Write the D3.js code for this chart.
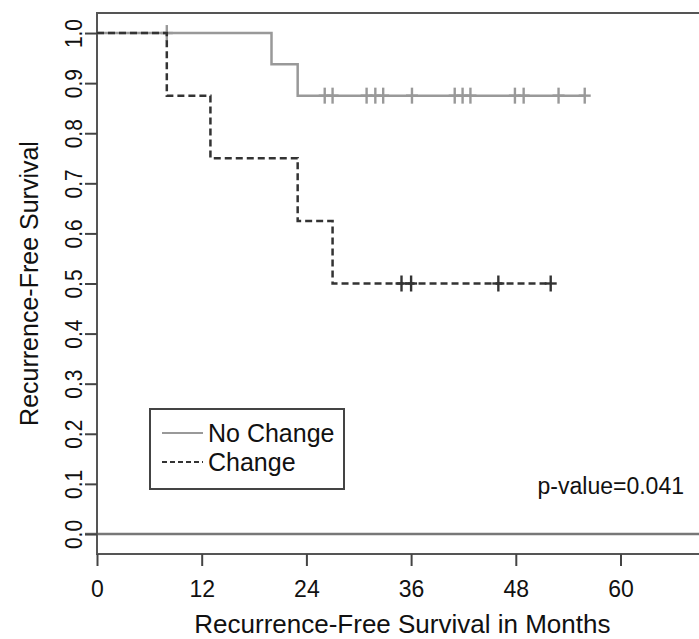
<!DOCTYPE html>
<html>
<head>
<meta charset="utf-8">
<script src="https://cdn.jsdelivr.net/npm/d3@7"></script>
<style>
  body { margin: 0; background: #fff; }
  svg text { font-family: "Liberation Sans", Arial, sans-serif; fill: #111; }
</style>
</head>
<body>
<div id="chart"></div>
<script>
const width = 699, height = 639;

// Kaplan-Meier estimates (months, survival)
const noChangeEventTimes = [20, 23];
const noChangeSurv = [0.9375, 0.875];
const noChangeCensored = [8, 26.1, 27.0, 30.9, 31.9, 32.8, 36.1, 41.0, 41.9, 42.8, 47.9, 48.9, 52.9, 55.9];

const changeEventTimes = [8, 13, 23, 27];
const changeSurv = [0.875, 0.75, 0.625, 0.5];
const changeCensored = [34.9, 36.0, 46.0, 52.0];

const xTicks = [0, 12, 24, 36, 48, 60];
const yTicks = [0, 0.1, 0.2, 0.3, 0.4, 0.5, 0.6, 0.7, 0.8, 0.9, 1.0];
const legendLabels = ["No Change", "Change"];
const pValueText = "p-value=0.041";

const x = d3.scaleLinear().domain([0, 70]).range([97, 707.75]);
const y = d3.scaleLinear().domain([-0.04, 1.04]).range([554, 13]);

const svg = d3.select("#chart").append("svg")
  .attr("width", width)
  .attr("height", height);

// step curve points: start at (0,1), each event, end at last censor time
function stepPoints(times, surv, censored) {
  const pts = [[0, 1]];
  times.forEach((t, i) => pts.push([t, surv[i]]));
  const end = d3.max(censored.concat(times));
  pts.push([end, surv[surv.length - 1]]);
  return pts;
}
function survAt(times, surv, t) {
  const i = d3.bisectRight(times, t);
  return i === 0 ? 1 : surv[i - 1];
}

const line = d3.line()
  .x(d => x(d[0]))
  .y(d => y(d[1]))
  .curve(d3.curveStepAfter);

// zero reference line
svg.append("line")
  .attr("x1", x(0) - 12).attr("x2", width)
  .attr("y1", y(0)).attr("y2", y(0))
  .attr("stroke", "#777")
  .attr("stroke-width", 2.5);

// plot box
svg.append("rect")
  .attr("x", x(0)).attr("y", y(1.04))
  .attr("width", x(70) - x(0))
  .attr("height", y(-0.04) - y(1.04))
  .attr("fill", "none")
  .attr("stroke", "#555")
  .attr("stroke-width", 2);

// x axis
const xAxis = svg.append("g")
  .attr("transform", `translate(0,${y(-0.04)})`)
  .call(d3.axisBottom(x).tickValues(xTicks).tickSize(12).tickPadding(6).tickFormat(d3.format("d")));
xAxis.select(".domain").remove();
xAxis.selectAll(".tick line").attr("stroke", "#444").attr("stroke-width", 2);
xAxis.selectAll(".tick text")
  .attr("font-size", 23)
  .attr("font-family", "Liberation Sans, Arial, sans-serif")
  .attr("fill", "#111")
  .attr("dy", null)
  .attr("y", 43);

// y axis
const yAxis = svg.append("g")
  .attr("transform", `translate(${x(0)},0)`)
  .call(d3.axisLeft(y).tickValues(yTicks).tickSize(12).tickFormat(d3.format(".1f")));
yAxis.select(".domain").remove();
yAxis.selectAll(".tick line").attr("stroke", "#444").attr("stroke-width", 2);
yAxis.selectAll(".tick text")
  .attr("font-size", 21)
  .attr("font-family", "Liberation Sans, Arial, sans-serif")
  .attr("fill", "#111")
  .attr("text-anchor", "middle")
  .attr("x", null).attr("dy", null)
  .attr("transform", "translate(-15,0) scale(1.15,1) rotate(-90)");

// axis titles
svg.append("text")
  .attr("x", (x(0) + x(70)) / 2)
  .attr("y", 633)
  .attr("text-anchor", "middle")
  .attr("font-size", 26)
  .text("Recurrence-Free Survival in Months");

svg.append("text")
  .attr("transform", `translate(38,${(y(-0.04) + y(1.04)) / 2}) rotate(-90)`)
  .attr("text-anchor", "middle")
  .attr("font-size", 25)
  .text("Recurrence-Free Survival");

// survival curves
const groups = [
  {times: noChangeEventTimes, surv: noChangeSurv, cens: noChangeCensored, color: "#999", dash: null, width: 2.5},
  {times: changeEventTimes, surv: changeSurv, cens: changeCensored, color: "#333", dash: "7,4", width: 2.5}
];

groups.forEach(g => {
  svg.append("path")
    .datum(stepPoints(g.times, g.surv, g.cens))
    .attr("d", line)
    .attr("fill", "none")
    .attr("stroke", g.color)
    .attr("stroke-width", g.width)
    .attr("stroke-dasharray", g.dash);

  const marks = svg.append("g").selectAll("g")
    .data(g.cens)
    .join("g")
    .attr("transform", t => `translate(${x(t)},${y(survAt(g.times, g.surv, t))})`)
    .attr("stroke", g.color)
    .attr("stroke-width", 2.4);
  marks.append("line").attr("x1", 0).attr("x2", 0).attr("y1", -8).attr("y2", 8);
  marks.append("line").attr("x1", -6).attr("x2", 6).attr("y1", 0).attr("y2", 0);
});

// legend
const legend = svg.append("g");
legend.append("rect")
  .attr("x", 150).attr("y", 409)
  .attr("width", 194).attr("height", 80)
  .attr("fill", "#fff")
  .attr("stroke", "#444")
  .attr("stroke-width", 2);

legendLabels.forEach((label, i) => {
  const g = groups[i];
  const ly = 433 + i * 29;
  legend.append("line")
    .attr("x1", 162).attr("x2", 203)
    .attr("y1", ly).attr("y2", ly)
    .attr("stroke", g.color)
    .attr("stroke-width", 2)
    .attr("stroke-dasharray", i === 1 ? "5,3" : null);
  legend.append("text")
    .attr("x", 208).attr("y", ly + 9)
    .attr("font-size", 25)
    .text(label);
});

// p-value annotation
svg.append("text")
  .attr("x", 684).attr("y", 494)
  .attr("text-anchor", "end")
  .attr("font-size", 23)
  .text(pValueText);
</script>
</body>
</html>
